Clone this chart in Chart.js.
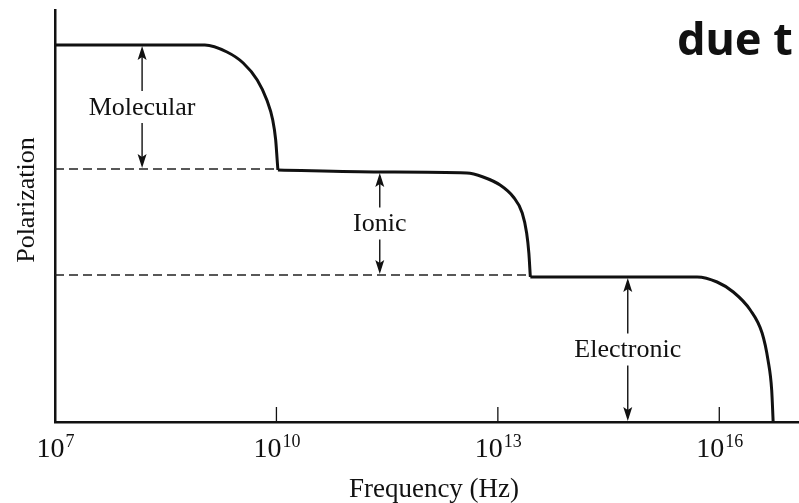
<!DOCTYPE html>
<html>
<head>
<meta charset="utf-8">
<script src="https://cdn.jsdelivr.net/npm/chart.js@4"></script>
<style>
  body { margin: 0; background: #fff; }
  #chart { display: block; }
</style>
</head>
<body>
<canvas id="chart" width="799" height="503"></canvas>
<script>
// curve, x as log10(Hz), y in arbitrary polarization units
const molecularExp = [7.00, 9.03, 9.33, 9.55, 9.74, 9.87, 9.95, 9.99, 10.01, 10.02];
const molecularPol = [3.77, 3.77, 3.70, 3.59, 3.42, 3.22, 3.02, 2.82, 2.62, 2.52];
const ionicExp = [10.02, 11.40, 12.58, 12.80, 13.03, 13.21, 13.33, 13.39, 13.42, 13.44];
const ionicPol = [2.52, 2.50, 2.49, 2.45, 2.37, 2.25, 2.09, 1.89, 1.69, 1.45];
const electronicExp = [13.44, 15.70, 15.97, 16.19, 16.42, 16.58, 16.66, 16.71, 16.73];
const electronicPol = [1.45, 1.45, 1.40, 1.30, 1.12, 0.89, 0.62, 0.32, 0];

const dashedLevels = [2.53, 1.47];
const dashedEnds = [10.02, 13.44];

const arrowLabels = ['Molecular', 'Ionic', 'Electronic'];
const arrowExp = [8.18, 11.40, 14.76];
const arrowTop = [3.77, 2.50, 1.45];
const arrowBottom = [2.53, 1.47, 0];

const tickExp = [7, 10, 13, 16];
const xLabel = 'Frequency (Hz)';
const yLabel = 'Polarization';
const sideText = 'due t';

const pts = (xs, ys) => xs.map((e, i) => ({ x: 10 ** e, y: ys[i] }));

const solid = (xs, ys) => ({
  data: pts(xs, ys),
  borderColor: '#111',
  borderWidth: 3,
  cubicInterpolationMode: 'monotone',
  pointRadius: 0,
  showLine: true
});

const dashed = dashedLevels.map((lv, i) => ({
  data: [{ x: 1e7, y: lv }, { x: 10 ** dashedEnds[i], y: lv }],
  borderColor: '#222',
  borderWidth: 1.4,
  borderDash: [9, 5],
  pointRadius: 0,
  showLine: true
}));

const serif = '"Liberation Serif", "DejaVu Serif", serif';

const extras = {
  id: 'extras',
  afterDatasetsDraw(chart) {
    const ctx = chart.ctx;
    const x = chart.scales.x, y = chart.scales.y;
    const base = y.getPixelForValue(0);
    ctx.save();
    ctx.fillStyle = '#111';
    ctx.strokeStyle = '#111';

    // inner tick marks
    ctx.lineWidth = 1.3;
    tickExp.slice(1).forEach(e => {
      const px = x.getPixelForValue(10 ** e);
      ctx.beginPath();
      ctx.moveTo(px, base);
      ctx.lineTo(px, base - 15);
      ctx.stroke();
    });

    // tick labels 10^n
    tickExp.forEach(e => {
      const px = x.getPixelForValue(10 ** e);
      ctx.font = '28px ' + serif;
      const w1 = ctx.measureText('10').width;
      ctx.font = '18px ' + serif;
      const w2 = ctx.measureText(String(e)).width;
      const left = px - (w1 + w2) / 2;
      ctx.textAlign = 'left';
      ctx.textBaseline = 'alphabetic';
      ctx.font = '28px ' + serif;
      ctx.fillText('10', left, 457);
      ctx.font = '18px ' + serif;
      ctx.fillText(String(e), left + w1 + 1, 447);
    });

    // arrows with labels
    ctx.font = '26px ' + serif;
    ctx.textAlign = 'center';
    ctx.textBaseline = 'middle';
    arrowLabels.forEach((lab, i) => {
      const px = x.getPixelForValue(10 ** arrowExp[i]);
      const t = y.getPixelForValue(arrowTop[i]);
      const b = y.getPixelForValue(arrowBottom[i]);
      const mid = (t + b) / 2;
      const gap = 16;
      ctx.lineWidth = 1.4;
      ctx.beginPath();
      ctx.moveTo(px, t + 4);
      ctx.lineTo(px, mid - gap);
      ctx.moveTo(px, mid + gap);
      ctx.lineTo(px, b - 4);
      ctx.stroke();
      [[t + 1, 1], [b - 1, -1]].forEach(([tip, dir]) => {
        ctx.beginPath();
        ctx.moveTo(px, tip);
        ctx.lineTo(px - 4.5, tip + dir * 14);
        ctx.lineTo(px, tip + dir * 11);
        ctx.lineTo(px + 4.5, tip + dir * 14);
        ctx.closePath();
        ctx.fill();
      });
      ctx.fillText(lab, px, mid + 1);
    });

    // axis titles
    ctx.font = '27px ' + serif;
    ctx.textAlign = 'center';
    ctx.textBaseline = 'alphabetic';
    ctx.fillText(xLabel, 434, 497);
    ctx.save();
    ctx.translate(34, 200);
    ctx.rotate(-Math.PI / 2);
    ctx.font = '26px ' + serif;
    ctx.fillText(yLabel, 0, 0);
    ctx.restore();

    // slide text cut off at the right
    ctx.font = 'bold 45px "Noto Sans", "Open Sans", sans-serif';
    ctx.textAlign = 'left';
    ctx.fillText(sideText, 677, 55);
    ctx.restore();
  }
};

new Chart(document.getElementById('chart'), {
  type: 'scatter',
  data: {
    datasets: [
      ...dashed,
      solid(molecularExp, molecularPol),
      solid(ionicExp, ionicPol),
      solid(electronicExp, electronicPol)
    ]
  },
  options: {
    responsive: false,
    animation: false,
    devicePixelRatio: 1,
    layout: { padding: { left: 55, top: 10, right: 0, bottom: 81 } },
    plugins: { legend: { display: false }, tooltip: { enabled: false } },
    scales: {
      x: {
        type: 'logarithmic',
        min: 1e7,
        max: 10 ** 17.08,
        grid: { display: false },
        ticks: { display: false },
        border: { display: true, color: '#111', width: 2.5 },
        afterFit: s => { s.height = 0; }
      },
      y: {
        min: 0,
        max: 4.12,
        grid: { display: false },
        ticks: { display: false },
        border: { display: true, color: '#111', width: 2.5 },
        afterFit: s => { s.width = 0; }
      }
    }
  },
  plugins: [extras]
});
</script>
</body>
</html>
